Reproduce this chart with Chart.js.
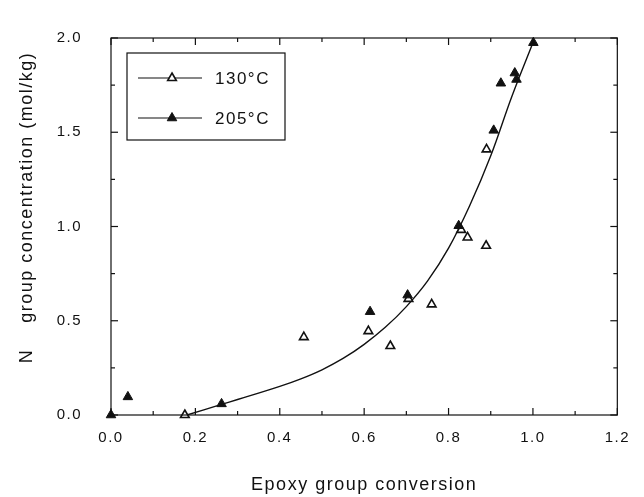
<!DOCTYPE html>
<html>
<head>
<meta charset="utf-8">
<script src="https://cdn.jsdelivr.net/npm/chart.js@4.4.0/dist/chart.umd.min.js"></script>
<style>
	html, body { margin: 0; padding: 0; background: #fff; }
	#wrap { width: 644px; height: 497px; }
</style>
</head>
<body>
<div id="wrap"><canvas id="chart"></canvas></div>
<script>
// 130°C series
const conv130 = [0.175, 0.457, 0.610, 0.662, 0.705, 0.760, 0.830, 0.845, 0.889, 0.890];
const conc130 = [0.000, 0.413, 0.445, 0.366, 0.616, 0.587, 0.982, 0.942, 0.898, 1.409];

// 205°C series
const conv205 = [0.000, 0.040, 0.262, 0.614, 0.703, 0.824, 0.907, 0.924, 0.957, 0.961, 1.001];
const conc205 = [0.000, 0.096, 0.059, 0.548, 0.636, 1.004, 1.510, 1.760, 1.814, 1.780, 1.975];

// fitted curve
const fitConv = [0.18, 0.26, 0.30, 0.40, 0.45, 0.50, 0.55, 0.60, 0.65, 0.70, 0.75, 0.80, 0.85, 0.90, 0.95, 1.00];
const fitConc = [0.000, 0.055, 0.082, 0.152, 0.192, 0.240, 0.300, 0.375, 0.465, 0.575, 0.710, 0.885, 1.110, 1.375, 1.690, 1.975];

const xTicks = [0, 0.2, 0.4, 0.6, 0.8, 1.0, 1.2];
const xMarks = [0, 0.1, 0.2, 0.3, 0.4, 0.5, 0.6, 0.7, 0.8, 0.9, 1.0, 1.1, 1.2];
const yTicks = [0, 0.5, 1.0, 1.5, 2.0];
const yMarks = [0, 0.25, 0.5, 0.75, 1.0, 1.25, 1.5, 1.75, 2.0];

const seriesNames = ["130°C", "205°C"];
const xTitle = "Epoxy group conversion";
const yTitle = "N    group concentration (mol/kg)";

const INK = "#111";
const FONT = "'Liberation Sans', Arial, sans-serif";
const zip = (xs, ys) => xs.map((v, i) => ({ x: v, y: ys[i] }));

// wider tracking like the printed figure
const tracking = {
	id: "tracking",
	beforeUpdate(chart) { chart.ctx.letterSpacing = "1.5px"; },
	beforeDraw(chart) { chart.ctx.letterSpacing = "1.5px"; },
};

// box frame with inward ticks on all four sides
const frameTicks = {
	id: "frameTicks",
	afterDraw(chart) {
		const { ctx, chartArea: a, scales: { x, y } } = chart;
		const seg = (x1, y1, x2, y2) => {
			ctx.beginPath();
			ctx.moveTo(x1, y1);
			ctx.lineTo(x2, y2);
			ctx.stroke();
		};
		ctx.save();
		ctx.strokeStyle = INK;
		ctx.lineWidth = 1.2;
		ctx.strokeRect(a.left, a.top, a.right - a.left, a.bottom - a.top);
		xMarks.forEach((v) => {
			const px = x.getPixelForValue(v);
			const len = xTicks.some((t) => Math.abs(t - v) < 1e-6) ? 7 : 4;
			seg(px, a.bottom, px, a.bottom - len);
			seg(px, a.top, px, a.top + len);
		});
		yMarks.forEach((v) => {
			const py = y.getPixelForValue(v);
			const len = yTicks.some((t) => Math.abs(t - v) < 1e-6) ? 7 : 4;
			seg(a.left, py, a.left + len, py);
			seg(a.right, py, a.right - len, py);
		});
		ctx.restore();
	},
};

// rotated y title, sitting a bit above centre as in the print
const yTitlePlugin = {
	id: "yTitlePlugin",
	afterDraw(chart) {
		const { ctx, chartArea: a } = chart;
		ctx.save();
		ctx.letterSpacing = "1.5px";
		ctx.fillStyle = INK;
		ctx.font = "18px " + FONT;
		ctx.translate(27, (a.top + a.bottom) / 2 - 19);
		ctx.rotate(-Math.PI / 2);
		ctx.textAlign = "center";
		ctx.textBaseline = "middle";
		ctx.fillText(yTitle, 0, 0);
		ctx.restore();
	},
};

// framed legend: line with marker, then label
const boxLegend = {
	id: "boxLegend",
	afterDraw(chart) {
		const { ctx, chartArea: a } = chart;
		const bx = a.left + 16;
		const by = a.top + 15;
		ctx.save();
		ctx.letterSpacing = "1.5px";
		ctx.fillStyle = "#fff";
		ctx.fillRect(bx, by, 158, 87);
		ctx.strokeStyle = INK;
		ctx.lineWidth = 1.2;
		ctx.strokeRect(bx, by, 158, 87);
		ctx.font = "17px " + FONT;
		ctx.textBaseline = "middle";
		seriesNames.forEach((name, i) => {
			const ds = chart.data.datasets[i + 1];
			const ry = by + 25 + i * 40;
			ctx.strokeStyle = INK;
			ctx.lineWidth = 1.2;
			ctx.beginPath();
			ctx.moveTo(bx + 11, ry);
			ctx.lineTo(bx + 75, ry);
			ctx.stroke();
			ctx.fillStyle = ds.backgroundColor;
			ctx.strokeStyle = ds.borderColor;
			ctx.lineWidth = ds.borderWidth;
			Chart.helpers.drawPoint(ctx, {
				pointStyle: "triangle",
				radius: ds.pointRadius,
				rotation: 0,
				borderWidth: ds.borderWidth,
			}, bx + 45, ry);
			ctx.fillStyle = INK;
			ctx.fillText(name, bx + 88, ry + 1);
		});
		ctx.restore();
	},
};

new Chart(document.getElementById("chart"), {
	type: "scatter",
	data: {
		datasets: [
			{
				type: "line",
				label: "fit",
				data: zip(fitConv, fitConc),
				borderColor: INK,
				borderWidth: 1.4,
				pointRadius: 0,
				fill: false,
				tension: 0.4,
				order: 3,
			},
			{
				label: seriesNames[0],
				data: zip(conv130, conc130),
				pointStyle: "triangle",
				pointRadius: 5,
				backgroundColor: "#fff",
				borderColor: INK,
				borderWidth: 1.6,
				clip: false,
				order: 2,
			},
			{
				label: seriesNames[1],
				data: zip(conv205, conc205),
				pointStyle: "triangle",
				pointRadius: 5.5,
				backgroundColor: INK,
				borderColor: INK,
				borderWidth: 1,
				clip: false,
				order: 1,
			},
		],
	},
	options: {
		responsive: true,
		maintainAspectRatio: false,
		animation: false,
		layout: { padding: { top: 20, right: 15, left: 0, bottom: 0 } },
		plugins: {
			legend: { display: false },
			title: { display: false },
			tooltip: { enabled: false },
		},
		scales: {
			x: {
				type: "linear",
				min: 0,
				max: 1.2,
				afterBuildTicks: (scale) => {
					scale.ticks = xTicks.map((v) => ({ value: v }));
				},
				afterFit: (scale) => {
					scale.height = 82;
				},
				grid: { display: false, drawTicks: false },
				border: { display: false },
				ticks: {
					color: INK,
					font: { family: FONT, size: 15 },
					padding: 14,
					maxRotation: 0,
					callback: (v) => Number(v).toFixed(1),
				},
				title: {
					display: true,
					text: xTitle,
					color: INK,
					font: { family: FONT, size: 18 },
					padding: { top: 0, bottom: 1 },
				},
			},
			y: {
				type: "linear",
				min: 0,
				max: 2,
				afterBuildTicks: (scale) => {
					scale.ticks = yTicks.map((v) => ({ value: v }));
				},
				afterFit: (scale) => {
					scale.width = 111;
				},
				grid: { display: false, drawTicks: false },
				border: { display: false },
				ticks: {
					color: INK,
					font: { family: FONT, size: 15 },
					padding: 29,
					callback: (v) => Number(v).toFixed(1),
				},
			},
		},
	},
	plugins: [tracking, frameTicks, yTitlePlugin, boxLegend],
});
</script>
</body>
</html>
